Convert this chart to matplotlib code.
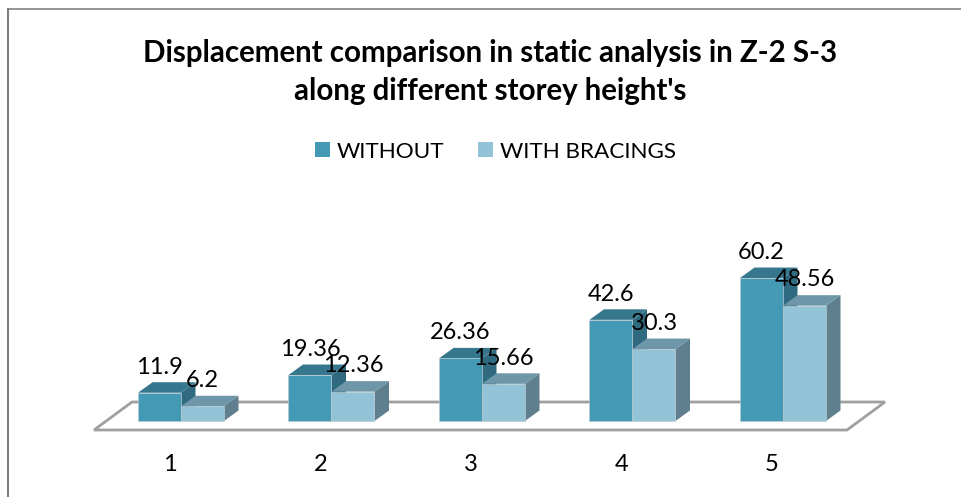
import matplotlib
matplotlib.use('Agg')
import matplotlib.pyplot as plt
from matplotlib.patches import Polygon, Patch

# Data
storeys = [1, 2, 3, 4, 5]
without = [11.9, 19.36, 26.36, 42.6, 60.2]
with_bracings = [6.2, 12.36, 15.66, 30.3, 48.56]
series_names = ['WITHOUT', 'WITH BRACINGS']
title = "Displacement comparison in static analysis in Z-2 S-3\nalong different storey height's"

plt.rcParams['font.family'] = ['Lato', 'DejaVu Sans']

W, H = 961, 497
px_x = 150.5        # pixels per category
px_y = 2.375        # pixels per value unit
x0, y0 = 181, 421   # pixel position of category 1 / value 0

fig = plt.figure(figsize=(W / 100, H / 100), dpi=100, facecolor='white')
ax = fig.add_axes([0, 0, 1, 1])
ax.set_xlim(1 - x0 / px_x, 1 + (W - x0) / px_x)
ax.set_ylim((y0 - H) / px_y, y0 / px_y)
ax.axis('off')

bar_w = 43 / px_x
dx = 14.5 / px_x
dy = 10.5 / px_y


def bar3d(x, val, front, top, side):
    # side and top first, then the front face on top of them
    ax.add_patch(Polygon([(x + bar_w, 0), (x + bar_w + dx, dy), (x + bar_w + dx, val + dy), (x + bar_w, val)],
                         closed=True, fc=side, ec='none', zorder=3))
    ax.add_patch(Polygon([(x, val), (x + dx, val + dy), (x + bar_w + dx, val + dy), (x + bar_w, val)],
                         closed=True, fc=top, ec='none', zorder=3))
    ax.add_patch(Polygon([(x, 0), (x, val), (x + bar_w, val), (x + bar_w, 0)],
                         closed=True, fc=front, ec='#b9c9cf', lw=0.5, zorder=3))


# floor of the 3D chart
floor_l = 1 - 87 / px_x
floor_r = 5 + 64 / px_x
floor_dx = 38 / px_x
floor_low = -9 / px_y
floor_high = 19 / px_y
ax.add_patch(Polygon([(floor_l, floor_low), (floor_r, floor_low),
                      (floor_r + floor_dx, floor_high), (floor_l + floor_dx, floor_high)],
                     closed=True, fc='white', ec='#a0a0a0', lw=2, zorder=1))

for i, s in enumerate(storeys):
    bar3d(s - bar_w, without[i], '#4499b4', '#37778d', '#2f6a80')
    bar3d(s, with_bracings[i], '#92c3d6', '#6d97a8', '#5f7f8e')
    ax.annotate(str(without[i]), (s - bar_w / 2, without[i]), xytext=(0, 18.5), textcoords='offset points',
                ha='center', va='center', fontsize=17, color='black', zorder=5)
    ax.annotate(str(with_bracings[i]), (s + bar_w / 2, with_bracings[i]), xytext=(0, 18.5), textcoords='offset points',
                ha='center', va='center', fontsize=17, color='black', zorder=5)
    ax.annotate(str(s), (s, floor_low), xytext=(-8, -24.5), textcoords='offset points',
                ha='center', va='center', fontsize=17, color='black')

# title and legend
fig.text(490.5 / W, 1 - 72 / H, title, ha='center', va='center', fontsize=21.25, fontweight='bold',
         color='black', linespacing=1.42)
handles = [Patch(fc='#4499b4', ec='none'), Patch(fc='#92c3d6', ec='none')]
fig.legend(handles, series_names, loc='center', bbox_to_anchor=(495.5 / W, 1 - 151.5 / H), ncol=2, frameon=False,
           fontsize=16.2, handlelength=0.67, handleheight=0.67, handletextpad=0.31, columnspacing=1.47)

# chart frame, only top and left show in the crop
ax.plot([1 - (x0 - 8) / px_x, 1 - (x0 - 8) / px_x], [(y0 - H) / px_y, (y0 - 9) / px_y], color='#808080', lw=1.5, zorder=6)
ax.plot([1 - (x0 - 8) / px_x, 1 + (W - x0) / px_x], [(y0 - 9) / px_y, (y0 - 9) / px_y], color='#808080', lw=1.2, zorder=6)

fig.savefig('out.png', dpi=100)
